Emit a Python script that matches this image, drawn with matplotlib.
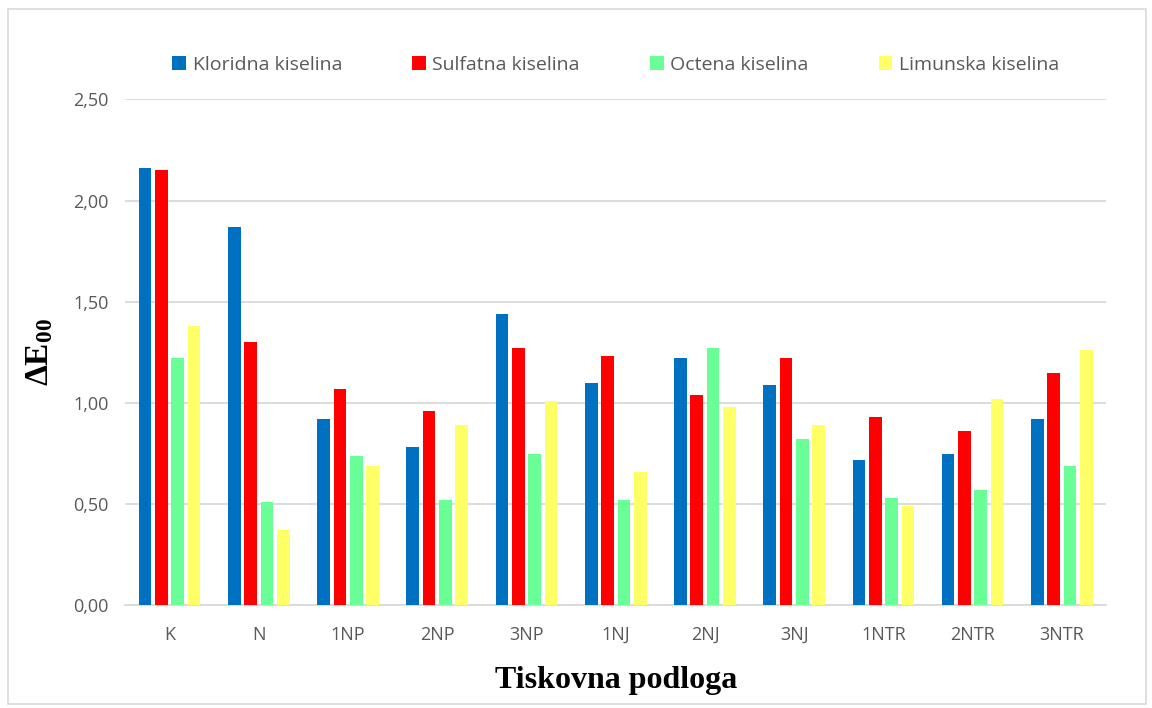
import matplotlib.pyplot as plt
import numpy as np
from matplotlib.patches import Rectangle

categories = ["K", "N", "1NP", "2NP", "3NP", "1NJ", "2NJ", "3NJ", "1NTR", "2NTR", "3NTR"]
series_names = ["Kloridna kiselina", "Sulfatna kiselina", "Octena kiselina", "Limunska kiselina"]
kloridna = [2.16, 1.87, 0.92, 0.78, 1.44, 1.10, 1.22, 1.09, 0.72, 0.75, 0.92]
sulfatna = [2.15, 1.30, 1.07, 0.96, 1.27, 1.23, 1.04, 1.22, 0.93, 0.86, 1.15]
octena = [1.22, 0.51, 0.74, 0.52, 0.75, 0.52, 1.27, 0.82, 0.53, 0.57, 0.69]
limunska = [1.38, 0.37, 0.69, 0.89, 1.01, 0.66, 0.98, 0.89, 0.49, 1.02, 1.26]
colors = ["#0070C0", "#FF0000", "#69FF96", "#FFFF66"]

plt.rcParams['font.family'] = ['Open Sans', 'DejaVu Sans']
plt.rcParams['mathtext.fontset'] = 'custom'
plt.rcParams['mathtext.rm'] = 'Liberation Serif'
plt.rcParams['mathtext.bf'] = 'Liberation Serif:bold'
plt.rcParams['mathtext.it'] = 'Liberation Serif:italic'

fig = plt.figure(figsize=(11.52, 7.08), dpi=100)
ax = fig.add_axes([0.1085, 0.145, 0.852, 0.7147])

# light frame round the whole chart
fig.patches.append(Rectangle((0.007, 0.005), 0.988, 0.982, transform=fig.transFigure,
                             fill=False, edgecolor="#d9d9d9", linewidth=1.2))

x = np.arange(len(categories))
step = 0.183
width = 0.142
for i, (vals, name) in enumerate(zip([kloridna, sulfatna, octena, limunska], series_names)):
    ax.bar(x + (i - 1.5) * step, vals, width, color=colors[i], label=name, zorder=3)

ax.set_xlim(-0.5, len(categories) - 0.5)
ax.set_ylim(0, 2.5)
ax.set_yticks(np.arange(0, 2.51, 0.5))
ax.set_yticklabels(["{:.2f}".format(v).replace(".", ",") for v in np.arange(0, 2.51, 0.5)])
ax.set_xticks(x)
ax.set_xticklabels(categories)
ax.tick_params(length=0, labelsize=13, labelcolor="#595959")
ax.tick_params(axis="x", pad=15)
ax.tick_params(axis="y", pad=12)
ax.grid(axis="y", color="#d9d9d9", linewidth=1.3, zorder=0)
for s in ["top", "right", "left"]:
    ax.spines[s].set_visible(False)
ax.spines["bottom"].set_color("#d9d9d9")
ax.spines["bottom"].set_linewidth(1.3)

ax.set_ylabel(r"$\mathbf{\Delta E_{00}}$", fontsize=24, labelpad=12)
ax.set_xlabel("Tiskovna podloga", fontsize=23, family="Liberation Serif", fontweight="bold", labelpad=16)

leg = ax.legend(ncol=4, frameon=False, loc="center", bbox_to_anchor=(0.5, 1.068),
                fontsize=14, handlelength=0.7, handleheight=0.7, handletextpad=0.35,
                columnspacing=3.6, labelcolor="#595959")

fig.savefig("out.png", dpi=100)
